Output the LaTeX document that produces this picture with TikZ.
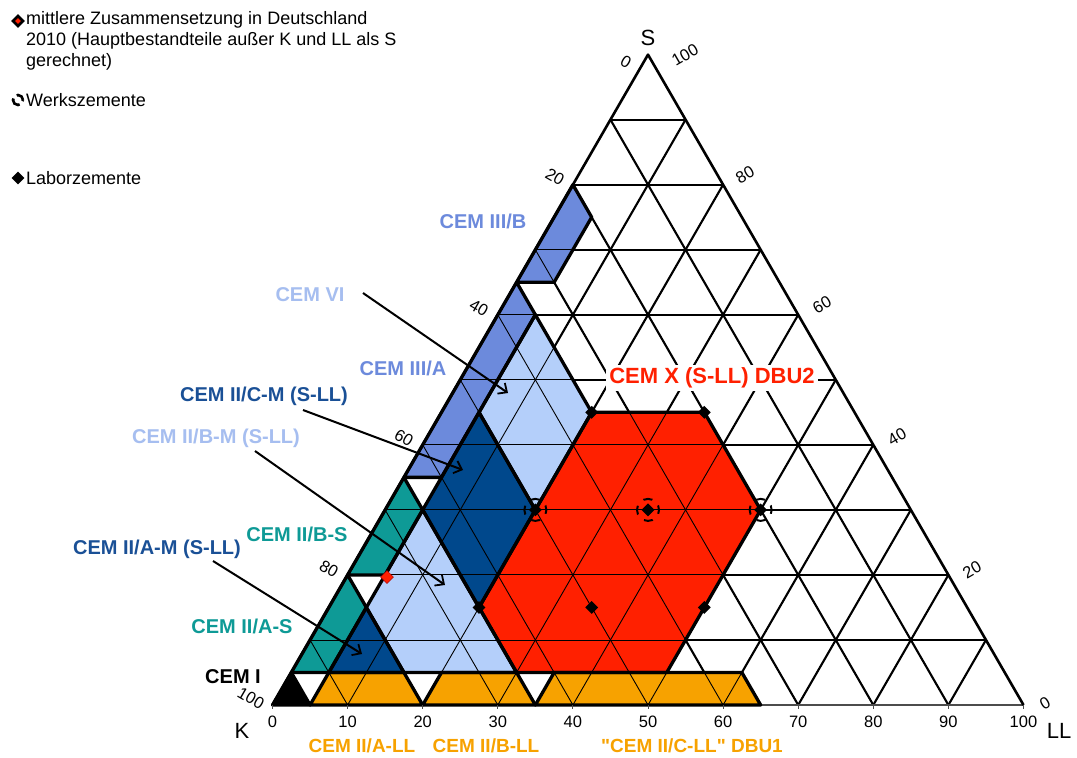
\documentclass[tikz,border=0pt]{standalone}
\usepackage{fontspec}
\setmainfont{Liberation Sans}[Ligatures=TeXOff]
\usetikzlibrary{arrows.meta,shapes.geometric}
\definecolor{teal1}{RGB}{14,154,150}
\definecolor{dblue}{RGB}{0,72,140}
\definecolor{dtext}{RGB}{26,80,150}
\definecolor{lblue}{RGB}{180,207,250}
\definecolor{ltext}{RGB}{166,190,240}
\definecolor{mblue}{RGB}{108,138,220}
\definecolor{red1}{RGB}{255,32,0}
\definecolor{orange1}{RGB}{247,162,0}
\begin{document}
\begin{tikzpicture}[x=1pt,y=-1pt,
  gridthick/.style={line width=2.1pt},
  gridthin/.style={line width=0.9pt},
  region/.style={line width=3.3pt, line join=round},
  lab/.style={font=\bfseries\fontsize{20}{23}\selectfont, inner sep=1pt},
  blab/.style={font=\bfseries\fontsize{19}{22}\selectfont, inner sep=1pt},
  leg/.style={font=\fontsize{18}{21}\selectfont, anchor=west, inner sep=0pt},
  num/.style={font=\fontsize{16.5}{18}\selectfont, inner sep=0pt},
  vert/.style={font=\fontsize{22}{25}\selectfont, inner sep=0pt},
  labdia/.style={diamond, fill=black, minimum size=13pt, inner sep=0pt},
  wring/.style={draw=black, line width=2pt, circle, minimum size=22pt, inner sep=0pt, dash pattern=on 9pt off 8.3pt, dash phase=4.5pt},
  arr/.style={line width=2pt, -{Straight Barb[length=7pt,width=13pt,line width=1.8pt]}}
]
\useasboundingbox (0,0) rectangle (1077,758);
\fill[white] (0,0) rectangle (1077,758);

\begin{scope}[shift={(272.5,705)}, x={(7.51pt,0pt)}, y={(3.755pt,6.5038pt)}]
  % thick grid
  \foreach \i in {10,20,...,90}{
    \draw[gridthick] (0,\i) -- ({100-\i},\i);
    \draw[gridthick] (\i,0) -- (\i,{100-\i});
    \draw[gridthick] (\i,0) -- (0,\i);
  }
  % fills
  \fill[black] (0,0) -- (5,0) -- (0,5) -- cycle;
  \fill[orange1] (5,0) -- (20,0) -- (15,5) -- (5,5) -- cycle;
  \fill[orange1] (20,0) -- (35,0) -- (30,5) -- (20,5) -- cycle;
  \fill[orange1] (35,0) -- (65,0) -- (60,5) -- (35,5) -- cycle;
  \fill[teal1] (0,5) -- (5,5) -- (5,15) -- (0,20) -- cycle;
  \fill[teal1] (0,20) -- (5,20) -- (5,30) -- (0,35) -- cycle;
  \fill[dblue] (5,5) -- (15,5) -- (5,15) -- cycle;
  \fill[lblue] (15,5) -- (30,5) -- (5,30) -- (5,15) -- cycle;
  \fill[dblue] (5,30) -- (20,15) -- (20,30) -- (5,45) -- cycle;
  \fill[lblue] (5,45) -- (20,30) -- (20,45) -- (5,60) -- cycle;
  \fill[red1] (30,5) -- (50,5) -- (50,30) -- (35,45) -- (20,45) -- (20,15) -- cycle;
  \fill[mblue] (0,35) -- (5,35) -- (5,60) -- (0,65) -- cycle;
  \fill[mblue] (0,65) -- (5,65) -- (5,75) -- (0,80) -- cycle;
  % thin grid
  \foreach \i in {10,20,...,90}{
    \draw[gridthin] (0,\i) -- ({100-\i},\i);
    \draw[gridthin] (\i,0) -- (\i,{100-\i});
    \draw[gridthin] (\i,0) -- (0,\i);
  }
  % outer triangle
  \draw[line width=1.3pt, black!70] (0,0) -- (100,0);
  \draw[line width=2.6pt, line join=round] (0,0) -- (0,100) -- (100,0);
  % region outlines
  \draw[region] (0,0) -- (5,0) -- (0,5) -- cycle;
  \draw[region] (5,0) -- (20,0) -- (15,5) -- (5,5) -- cycle;
  \draw[region] (20,0) -- (35,0) -- (30,5) -- (20,5) -- cycle;
  \draw[region] (35,0) -- (65,0) -- (60,5) -- (35,5) -- cycle;
  \draw[region] (0,5) -- (5,5) -- (5,15) -- (0,20) -- cycle;
  \draw[region] (0,20) -- (5,20) -- (5,30) -- (0,35) -- cycle;
  \draw[region] (5,5) -- (15,5) -- (5,15) -- cycle;
  \draw[region] (15,5) -- (30,5) -- (5,30) -- (5,15) -- cycle;
  \draw[region] (5,30) -- (20,15) -- (20,30) -- (5,45) -- cycle;
  \draw[region] (5,45) -- (20,30) -- (20,45) -- (5,60) -- cycle;
  \draw[region] (30,5) -- (50,5) -- (50,30) -- (35,45) -- (20,45) -- (20,15) -- cycle;
  \draw[region] (0,35) -- (5,35) -- (5,60) -- (0,65) -- cycle;
  \draw[region] (0,65) -- (5,65) -- (5,75) -- (0,80) -- cycle;
  % markers
  \node[wring] (w1) at (20,30) {};
  \node[wring] (w2) at (35,30) {};
  \node[wring] (w3) at (50,30) {};
  \node[labdia] (d1) at (20,45) {};
  \node[labdia] (d2) at (35,45) {};
  \node[labdia] (d3) at (20,30) {};
  \node[labdia] (d4) at (35,30) {};
  \node[labdia] (d5) at (50,30) {};
  \node[labdia] (d6) at (20,15) {};
  \node[labdia] (d7) at (35,15) {};
  \node[labdia] (d8) at (50,15) {};
\end{scope}

% mean composition
\node[diamond, fill=red1, draw=red!70!black, line width=0.5pt, minimum size=13pt, inner sep=0pt] (mean) at (387,577) {};

% bottom axis ticks and numbers
\foreach \v [count=\c] in {0,10,...,100}{
  \draw[line width=1pt, black!70] ({272.5+7.51*\v},705) -- ++(0,4);
  \node[num] (bx\c) at ({272.5+7.51*\v},722) {\v};
}
% left axis (K)
\node[num, rotate=-30] (lk0) at (626,62) {0};
\node[num, rotate=-30] (lk20) at (555,177) {20};
\node[num, rotate=-30] (lk40) at (479,308) {40};
\node[num, rotate=-30] (lk60) at (404,438) {60};
\node[num, rotate=-30] (lk80) at (329,569) {80};
\node[num, rotate=-30] (lk100) at (251,698) {100};
% right axis (S)
\node[num, rotate=30] (rs100) at (685,55) {100};
\node[num, rotate=30] (rs80) at (745,175) {80};
\node[num, rotate=30] (rs60) at (822,305) {60};
\node[num, rotate=30] (rs40) at (897,437) {40};
\node[num, rotate=30] (rs20) at (972,570) {20};
\node[num, rotate=30] (rs0) at (1045,703) {0};
% vertex labels
\node[vert] (vS) at (648,38) {S};
\node[vert] (vK) at (242,731) {K};
\node[vert] (vLL) at (1059,731) {LL};

% region labels
\node[lab, text=mblue] (l3b) at (483,221) {CEM III/B};
\node[lab, text=ltext] (l6) at (310,295) {CEM VI};
\node[lab, text=mblue] (l3a) at (403,368) {CEM III/A};
\node[lab, text=dtext] (l2cm) at (264,396) {CEM II/C-M (S-LL)};
\node[lab, text=ltext] (l2bm) at (216,438) {CEM II/B-M (S-LL)};
\node[lab, text=teal1] (l2bs) at (297,534) {CEM II/B-S};
\node[lab, text=dtext] (l2am) at (157,549) {CEM II/A-M (S-LL)};
\node[lab, text=teal1] (l2as) at (242,626) {CEM II/A-S};
\node[lab, text=black] (l1) at (233,677) {CEM I};
\node[blab, text=orange1] (l2all) at (362,746) {CEM II/A-LL};
\node[blab, text=orange1] (l2bll) at (486,746) {CEM II/B-LL};
\node[blab, text=orange1] (l2cll) at (692,746) {"CEM II/C-LL" DBU1};
\node[lab, font=\bfseries\fontsize{22}{25}\selectfont, text=red1, fill=white, inner sep=3pt] (lx) at (712,378) {CEM X (S-LL) DBU2};

% arrows
\coordinate (a1s) at (363,293); \coordinate (a1e) at (508,393);
\coordinate (a2s) at (303,410); \coordinate (a2e) at (463,470);
\coordinate (a3s) at (255,451); \coordinate (a3e) at (445,585);
\coordinate (a4s) at (213,561); \coordinate (a4e) at (362,654);
\draw[arr] (a1s) -- (a1e);
\draw[arr] (a2s) -- (a2e);
\draw[arr] (a3s) -- (a3e);
\draw[arr] (a4s) -- (a4e);

% legend
\node[labdia, minimum size=14pt] (li1) at (18,21) {};
\node[diamond, fill=red1, minimum size=6pt, inner sep=0pt] (li1c) at (18,21) {};
\node[leg] (lt1) at (26,20) {mittlere Zusammensetzung in Deutschland};
\node[leg] (lt2) at (26,41) {2010 (Hauptbestandteile außer K und LL als S};
\node[leg] (lt3) at (26,62) {gerechnet)};
\node[draw=black, line width=2.6pt, circle, minimum size=10pt, inner sep=0pt, dash pattern=on 11pt off 4.7pt, dash phase=2pt] (li2) at (18,100) {};
\node[leg] (lt4) at (26,100) {Werkszemente};
\node[labdia, minimum size=13pt] (li3) at (18,178) {};
\node[leg] (lt5) at (26,178) {Laborzemente};
\end{tikzpicture}
\end{document}
